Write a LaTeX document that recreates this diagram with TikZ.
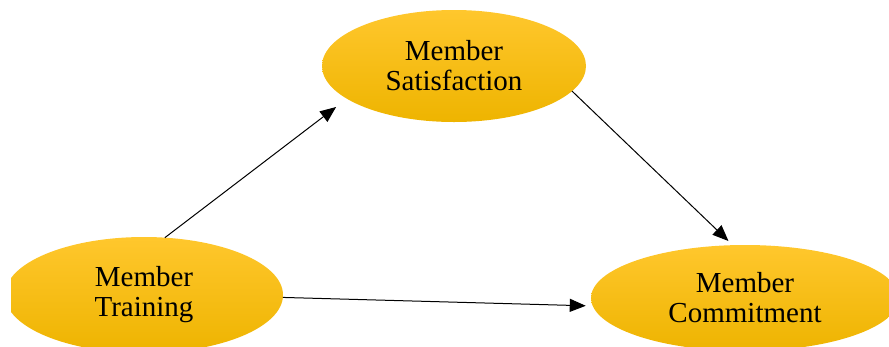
\documentclass[tikz,border=0pt]{standalone}
\usepackage{fontspec}
\setmainfont{Liberation Serif}
\usetikzlibrary{shapes.geometric,arrows.meta}
\tikzset{
  factor/.style={ellipse, inner sep=0pt, outer sep=0pt, align=center,
    font=\fontsize{29}{30}\selectfont,
    top color=gold1, middle color=gold2, bottom color=gold3}
}
\definecolor{gold1}{RGB}{255,199,45}
\definecolor{gold2}{RGB}{255,192,0}
\definecolor{gold3}{RGB}{238,180,0}
\begin{document}
\begin{tikzpicture}[x=1pt,y=-1pt]
      \useasboundingbox (0,0) rectangle (889,346);
      \clip (11,0) rectangle (889,346);
      \draw[draw=none]
        (454,66) node[factor, minimum width=264pt, minimum height=112pt] (satis){Member\\Satisfaction}
        (144,295) node[factor, minimum width=278pt, minimum height=116pt] (train){Member\\Training}
        (745,298) node[factor, minimum width=308pt, minimum height=106pt] (commit){Member\\Commitment};
      \begin{scope}[-{Triangle[length=16pt,width=13pt]}, line width=1pt]
        \draw[shorten >=13.6pt] (train.70) to (satis.197.8);
        \draw[shorten >=6pt] (satis.-12.8) to (commit.103.5);
        \draw[shorten >=7pt] (train.-1) to (commit.183.4);
      \end{scope}
    \end{tikzpicture}
\end{document}
